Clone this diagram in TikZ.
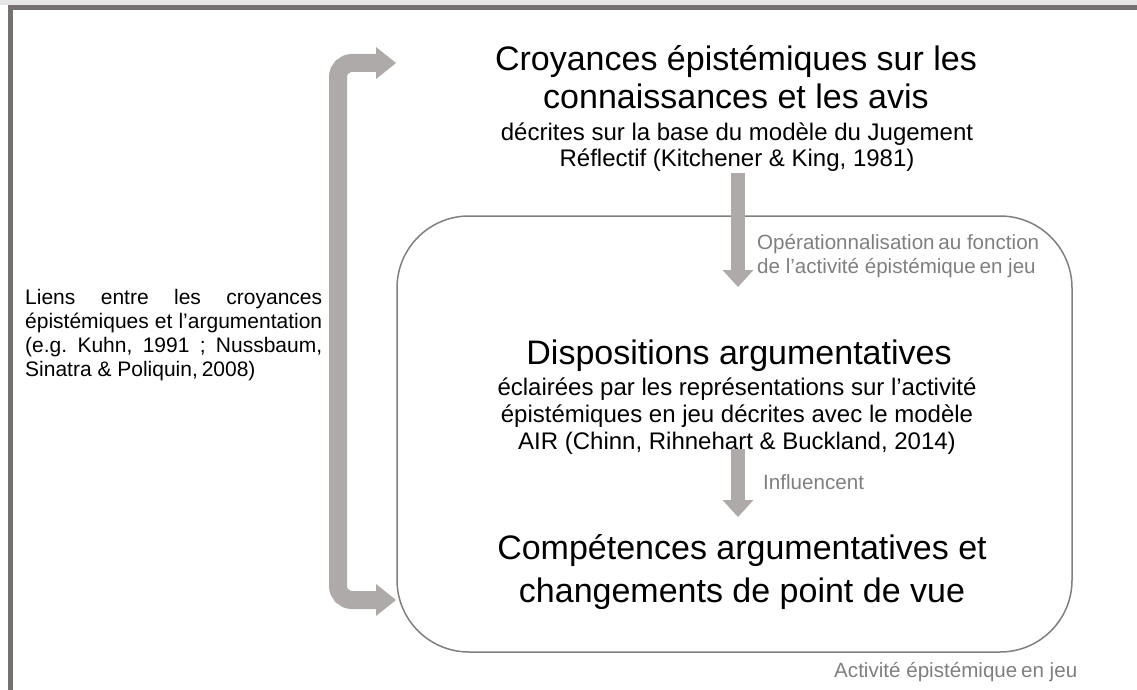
\documentclass[tikz,border=0pt]{standalone}
\usepackage{fontspec}
\setmainfont{Liberation Sans}
\definecolor{framec}{HTML}{767171}
\definecolor{arrc}{HTML}{AEAAAA}
\definecolor{labc}{HTML}{7F7F7F}
\definecolor{stripc}{HTML}{E7E6E6}
\begin{document}
\begin{tikzpicture}[x=1pt,y=-1pt,
  titletext/.style={anchor=base, inner sep=0pt, font=\fontsize{34}{40}\selectfont},
  subtext/.style={anchor=base, inner sep=0pt, font=\fontsize{24}{28}\selectfont},
  greylabel/.style={anchor=base west, inner sep=0pt, text=labc, font=\fontsize{20.6}{24}\selectfont},
  shaft/.style={draw=arrc, line width=14pt},
  head/.style={fill=arrc},
  bracketline/.style={draw=arrc, line width=18pt, rounded corners=14pt}
]
\useasboundingbox (0,0) rectangle (1137,690);
% frame
\fill[stripc] (0,0) rectangle (1137,5);
\fill[framec] (8,5) rectangle (1137,10);
\fill[framec] (8,5) rectangle (13,690);

% rounded box
\draw[labc, line width=1.5pt, rounded corners=72pt] (397,216) rectangle (1072,652);

% titles
\node[titletext] (t1a) at (736,71) {Croyances épistémiques sur les};
\node[titletext] (t1b) at (736,109) {connaissances et les avis};
\node[subtext] (s1a) at (737,140) {décrites sur la base du modèle du Jugement};
\node[subtext] (s1b) at (737,166) {Réflectif (Kitchener \& King, 1981)};

\node[titletext] (t2) at (739,364) {Dispositions argumentatives};
\node[subtext] (s2a) at (737,395) {éclairées par les représentations sur l’activité};
\node[subtext] (s2b) at (737,422) {épistémiques en jeu décrites avec le modèle};
\node[subtext] (s2c) at (737,449) {AIR (Chinn, Rihnehart \& Buckland, 2014)};

\node[titletext] (t3a) at (742,559) {Compétences argumentatives et};
\node[titletext] (t3b) at (742,602) {changements de point de vue};

% grey labels
\node[greylabel] (l1a) at (757,249) {Opérationnalisation\kern-2pt{} au fonction};
\node[greylabel] (l1b) at (757,273) {de l’activité épistémique\kern-2pt{} en jeu};
\node[greylabel] (l2) at (763,489) {Influencent};
\node[greylabel] (l3) at (834,677) {Activité épistémique\kern-2pt{} en jeu};

% left text
\node[anchor=north west, inner sep=0pt, font=\fontsize{21}{24}\selectfont] (left) at (25,289) {%
  \vbox{\baselineskip=24pt
  \hbox to 297pt{Liens\hfill entre\hfill les\hfill croyances}
  \hbox to 297pt{épistémiques\hfill et\hfill l’argumentation}
  \hbox to 297pt{(e.g.\hfill Kuhn,\hfill 1991\hfill ;\hfill Nussbaum,}
  \hbox to 297pt{Sinatra \& Poliquin,\kern-2pt{} 2008)\hfill}}};

% bracket arrow
\coordinate (bt) at (377,63);
\coordinate (bb) at (377,600);
\draw[bracketline] (bt) -- (338,63) -- (338,600) -- (bb);
\fill[head] (376,47) -- (396,63) -- (376,79) -- cycle;
\fill[head] (376,584) -- (396,600) -- (376,616) -- cycle;

% down arrows
\coordinate (a1s) at (738,173);
\coordinate (a1e) at (738,271);
\draw[shaft] (a1s) -- (a1e);
\fill[head] (722.5,270) -- (753.5,270) -- (738,287) -- cycle;
\coordinate (a2s) at (738,449);
\coordinate (a2e) at (738,501);
\draw[shaft] (a2s) -- (a2e);
\fill[head] (722.5,500) -- (753.5,500) -- (738,517) -- cycle;
\end{tikzpicture}
\end{document}
